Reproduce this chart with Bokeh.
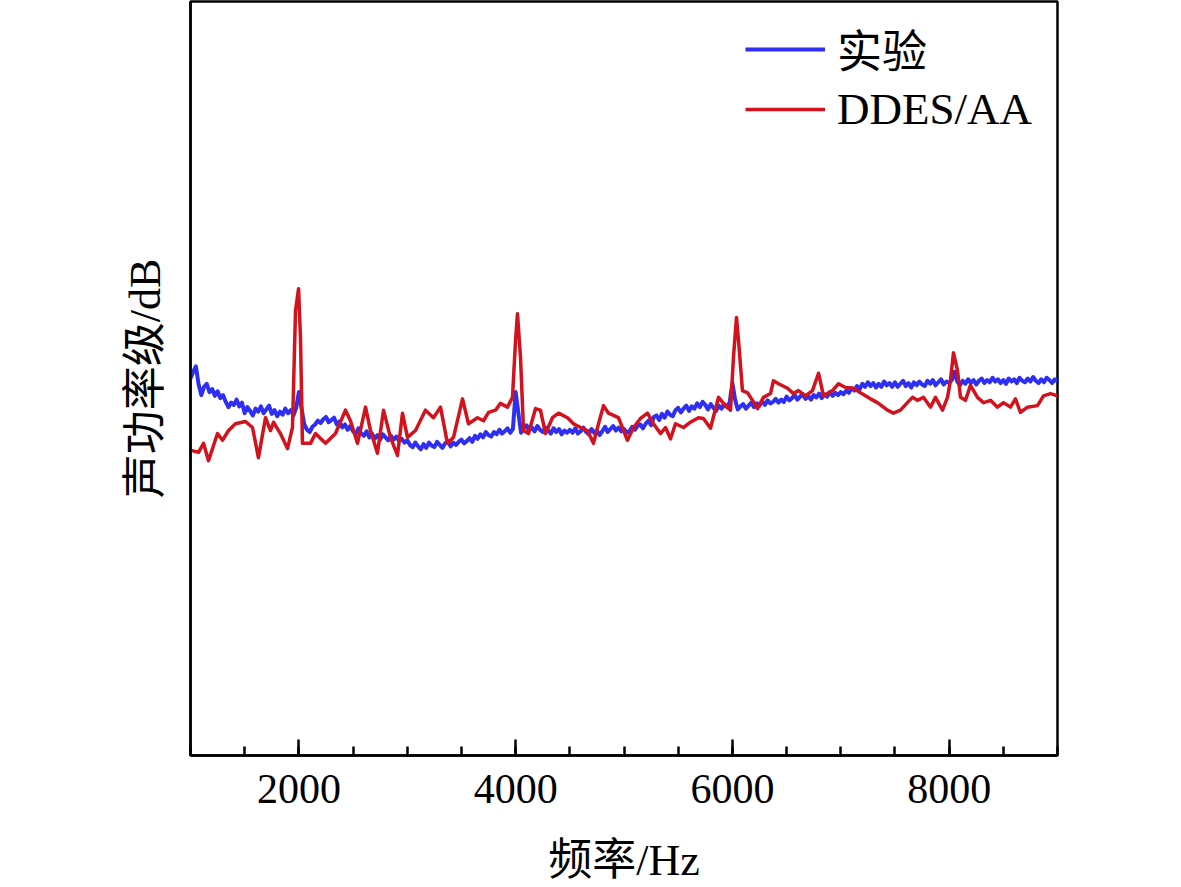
from bokeh.plotting import figure
from bokeh.models import Range1d, SingleIntervalTicker, FixedTicker, Legend, LegendItem
from bokeh.embed import file_html
from bokeh.resources import INLINE

# ---------------- data ----------------
x_title = "频率/Hz"
y_title = "声功率级/dB"
series_names = ["实验", "DDES/AA"]

# experiment (blue), 25 Hz spacing from 1000 to 9000 Hz
exp_freq = list(range(1000, 9001, 25))
exp_level = [
    50.0, 50.9, 51.6, 49.2, 47.8, 48.9, 49.3, 48.2, 48.6, 47.7, 48.3, 47.4, 47.8, 46.9, 46.2, 46.8, 46.5, 47.2, 46.3, 46.8,
    45.4, 46.2, 45.7, 45.1, 46.0, 45.6, 46.3, 45.4, 45.9, 46.4, 45.3, 45.8, 45.0, 45.6, 45.2, 46.0, 45.4, 45.8, 45.1, 46.1,
    48.2, 46.0, 43.9, 43.2, 42.9, 43.6, 43.9, 44.4, 44.1, 44.6, 44.9, 44.2, 44.5, 44.8, 43.9, 44.3, 43.5, 43.9, 43.2, 43.7,
    43.0, 42.6, 43.4, 42.7, 42.4, 43.0, 42.2, 42.7, 42.0, 42.5, 41.9, 42.6, 42.2, 41.8, 42.4, 41.9, 42.3, 41.7, 42.0, 41.5,
    41.8, 41.2, 40.9, 41.5, 41.0, 40.6, 41.3, 40.8, 41.5, 41.1, 40.9, 41.6, 41.2, 40.8, 41.4, 41.7, 41.0, 41.5, 41.2, 41.6,
    41.9, 41.4, 41.7, 42.1, 41.6, 42.4, 42.0, 42.6, 42.2, 42.9, 42.5, 42.3, 42.9, 42.6, 43.2, 42.7, 43.0, 43.4, 42.8, 43.3,
    48.2, 45.5, 42.8, 43.4, 43.8, 43.1, 43.5, 43.0, 43.7, 43.2, 42.9, 43.5, 43.1, 42.7, 43.4, 42.9, 43.3, 42.6, 43.1, 42.8,
    43.2, 42.8, 43.4, 42.7, 43.0, 43.5, 42.9, 42.6, 43.3, 42.8, 43.1, 42.5, 43.0, 43.6, 42.9, 43.3, 43.7, 43.1, 43.5, 43.0,
    43.3, 42.8, 43.0, 43.6, 43.2, 43.7, 43.9, 43.4, 44.0, 44.4, 43.8, 44.9, 45.1, 44.5, 45.3, 44.8, 45.6, 45.2, 45.0, 45.8,
    46.1, 45.5, 46.0, 46.4, 45.7, 46.3, 46.0, 46.7, 46.2, 46.9, 46.5, 45.9, 46.6, 46.1, 45.7, 46.4, 46.0, 46.6, 46.2, 46.8,
    49.4, 47.2, 45.9, 46.3, 46.6, 46.0, 46.4, 46.8, 46.2, 46.7, 46.4, 47.0, 46.5, 47.1, 46.7, 46.9, 47.3, 46.8, 47.2, 46.9,
    47.6, 47.1, 47.4, 47.8, 47.2, 47.6, 47.9, 47.3, 47.7, 47.2, 47.8, 47.5, 48.0, 47.4, 47.9, 47.6, 48.2, 47.7, 48.1, 47.8,
    48.2, 47.9, 48.4, 48.1, 48.7, 48.4, 49.0, 48.6, 49.3, 48.9, 49.5, 49.0, 49.4, 48.8, 49.3, 48.9, 49.6, 49.1, 49.4, 48.9,
    49.5, 48.9, 49.3, 49.7, 49.0, 49.4, 48.8, 49.5, 49.1, 49.6, 49.2, 49.0, 49.7, 49.3, 49.8, 49.1, 49.5, 49.9, 49.2, 49.6,
    49.4, 49.8, 50.9, 49.6, 49.1, 49.7, 49.3, 49.9, 49.4, 49.8, 49.2, 49.7, 50.0, 49.4, 49.8, 49.5, 50.1, 49.6, 49.9, 49.4,
    49.8, 49.3, 50.0, 49.6, 49.9, 49.4, 50.1, 49.7, 49.5, 50.0, 49.6, 50.2, 49.7, 49.4, 49.9, 49.5, 50.1, 49.8, 49.4, 49.9,
    49.6,
]

# DDES/AA simulation (red)
sim_freq = [
    1000, 1074, 1120, 1166, 1249, 1295, 1351, 1415, 1507, 1572,
    1627, 1692, 1738, 1766, 1830, 1895, 1941, 1969, 1997, 2015,
    2033, 2107, 2153, 2246, 2338, 2430, 2476, 2541, 2615, 2661,
    2725, 2781, 2845, 2910, 2956, 3002, 3076, 3168, 3242, 3307,
    3371, 3427, 3510, 3565, 3648, 3704, 3750, 3814, 3860, 3925,
    3971, 3999, 4017, 4045, 4073, 4119, 4183, 4229, 4276, 4340,
    4396, 4479, 4534, 4599, 4663, 4718, 4765, 4811, 4857, 4903,
    4949, 5032, 5088, 5152, 5217, 5272, 5337, 5383, 5429, 5475,
    5549, 5613, 5687, 5733, 5798, 5872, 5918, 5983, 6010, 6038,
    6057, 6093, 6140, 6186, 6232, 6287, 6352, 6379, 6426, 6509,
    6564, 6610, 6675, 6739, 6795, 6841, 6924, 6979, 7044, 7118,
    7182, 7274, 7339, 7431, 7486, 7551, 7615, 7662, 7708, 7763,
    7828, 7874, 7939, 7985, 8012, 8040, 8077, 8105, 8151, 8197,
    8262, 8317, 8382, 8446, 8502, 8566, 8612, 8658, 8723, 8815,
    8871, 8935, 9000,
]
sim_level = [
    40.5, 40.2, 41.4, 39.1, 42.7, 41.8, 43.1, 44.0, 44.3, 43.5,
    39.5, 44.8, 43.1, 44.2, 42.7, 40.7, 43.5, 59.0, 61.9, 55.4,
    41.4, 41.4, 42.7, 41.4, 42.7, 45.8, 44.4, 41.4, 46.2, 43.1,
    40.1, 45.8, 42.2, 39.8, 45.4, 42.2, 43.1, 45.8, 44.8, 46.2,
    41.4, 42.2, 47.3, 44.0, 44.8, 44.4, 45.5, 45.8, 46.7, 46.2,
    47.5, 55.0, 58.6, 52.8, 43.1, 42.7, 46.0, 45.8, 42.7, 44.8,
    45.4, 44.8, 44.0, 43.5, 43.1, 41.4, 44.0, 46.4, 45.4, 45.1,
    44.8, 41.8, 43.5, 44.7, 45.4, 44.0, 42.7, 43.5, 42.0, 44.0,
    43.5, 44.2, 44.8, 44.7, 43.4, 47.5, 46.7, 45.8, 52.8, 58.1,
    55.0, 48.4, 48.1, 47.1, 46.0, 47.5, 48.0, 49.7, 49.3, 48.7,
    48.0, 48.4, 47.7, 48.4, 50.7, 47.7, 48.4, 49.3, 48.8, 48.7,
    48.1, 47.3, 46.8, 45.8, 45.4, 45.8, 46.8, 47.5, 47.1, 47.5,
    46.2, 47.5, 45.8, 47.5, 49.7, 53.4, 51.1, 47.5, 47.1, 49.1,
    47.5, 46.8, 47.1, 46.2, 46.8, 46.2, 47.3, 45.5, 46.2, 46.4,
    47.7, 48.0, 47.7,
]

x_start, x_end = 1000, 9000
y_start, y_end = 0, 100

# ---------------- styles ----------------
BLUE = "#2f2ff2"
RED = "#d2121c"
FONT = "'Liberation Serif', 'Noto Sans CJK SC', serif"

p = figure(width=1070, height=887,
           x_range=Range1d(x_start, x_end), y_range=Range1d(y_start, y_end),
           output_backend="svg", toolbar_location=None,
           min_border_left=190, min_border_right=13,
           min_border_top=1, min_border_bottom=132)

p.background_fill_color = "white"
p.border_fill_color = "white"
p.outline_line_color = "black"
p.outline_line_width = 2.5
p.xgrid.visible = False
p.ygrid.visible = False

r_exp = p.line(exp_freq, exp_level, line_color=BLUE, line_width=4, line_join="round")
r_sim = p.line(sim_freq, sim_level, line_color=RED, line_width=3.5, line_join="round")

# x axis
xa = p.xaxis[0]
xa.ticker = SingleIntervalTicker(interval=2000, num_minor_ticks=4)
xa.axis_line_color = "black"
xa.axis_line_width = 2.5
xa.major_tick_line_color = "black"
xa.major_tick_line_width = 2.5
xa.major_tick_in = 16
xa.major_tick_out = 0
xa.minor_tick_line_color = "black"
xa.minor_tick_line_width = 2.5
xa.minor_tick_in = 9
xa.minor_tick_out = 0
xa.major_label_text_font = FONT
xa.major_label_text_font_size = "42px"
xa.major_label_text_color = "black"
xa.major_label_standoff = 19
xa.axis_label = x_title
xa.axis_label_text_font = FONT
xa.axis_label_text_font_size = "44px"
xa.axis_label_text_font_style = "normal"
xa.axis_label_text_color = "black"
xa.axis_label_standoff = 30

# y axis (no ticks / labels)
ya = p.yaxis[0]
ya.ticker = FixedTicker(ticks=[])
ya.axis_line_color = "black"
ya.axis_line_width = 2.5
ya.major_tick_line_color = None
ya.minor_tick_line_color = None
ya.major_label_standoff = 0
ya.axis_label = y_title
ya.axis_label_text_font = FONT
ya.axis_label_text_font_size = "44px"
ya.axis_label_text_font_style = "normal"
ya.axis_label_text_color = "black"
ya.axis_label_standoff = 21

legend = Legend(items=[LegendItem(label=series_names[0], renderers=[r_exp]),
                       LegendItem(label=series_names[1], renderers=[r_sim])],
                location=(555, 620))
legend.label_text_font = FONT
legend.label_text_font_size = "45px"
legend.label_text_color = "black"
legend.glyph_width = 80
legend.glyph_height = 40
legend.label_standoff = 12
legend.spacing = 2
legend.padding = 4
legend.margin = 0
legend.border_line_color = None
legend.background_fill_alpha = 0
p.add_layout(legend)

open("out.html", "w").write(file_html(p, INLINE))
